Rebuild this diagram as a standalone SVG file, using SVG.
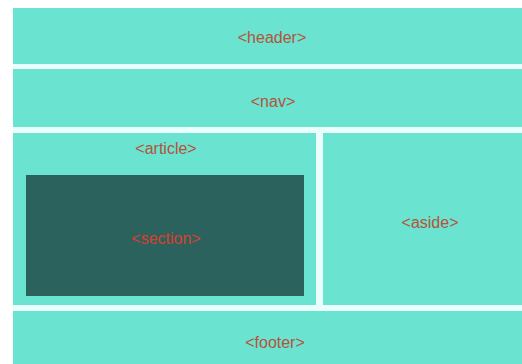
<svg xmlns="http://www.w3.org/2000/svg" width="522" height="364" viewBox="0 0 522 364">
<style>
.box{fill:#6ae3d0}
.lbl{font-family:"Liberation Sans",Arial,sans-serif;font-size:16px;fill:#b5533a;text-anchor:middle;dominant-baseline:central}
.sec{fill:#2c625e}
.seclbl{font-family:"Liberation Sans",Arial,sans-serif;font-size:16px;fill:#d8402c;text-anchor:middle;dominant-baseline:central}
</style>
<rect width="522" height="364" fill="#ffffff"/>
<rect x="13" y="8" width="509" height="356" fill="#eafffb"/>
<g id="header"><rect class="box" x="13" y="8" width="509" height="56"/><text class="lbl" x="272" y="37">&lt;header&gt;</text></g>
<g id="nav"><rect class="box" x="13" y="69" width="509" height="58"/><text class="lbl" x="273" y="101">&lt;nav&gt;</text></g>
<g id="article"><rect class="box" x="13" y="133" width="303" height="172"/><text class="lbl" x="166" y="148">&lt;article&gt;</text></g>
<g id="section"><rect class="sec" x="26" y="175" width="278" height="121"/><text class="seclbl" x="166" y="238">&lt;section&gt;</text></g>
<g id="aside"><rect class="box" x="323" y="133" width="199" height="172"/><text class="lbl" x="430" y="222">&lt;aside&gt;</text></g>
<g id="footer"><rect class="box" x="13" y="311" width="509" height="53"/><text class="lbl" x="275" y="342">&lt;footer&gt;</text></g>
<g id="connectors"/>
</svg>
